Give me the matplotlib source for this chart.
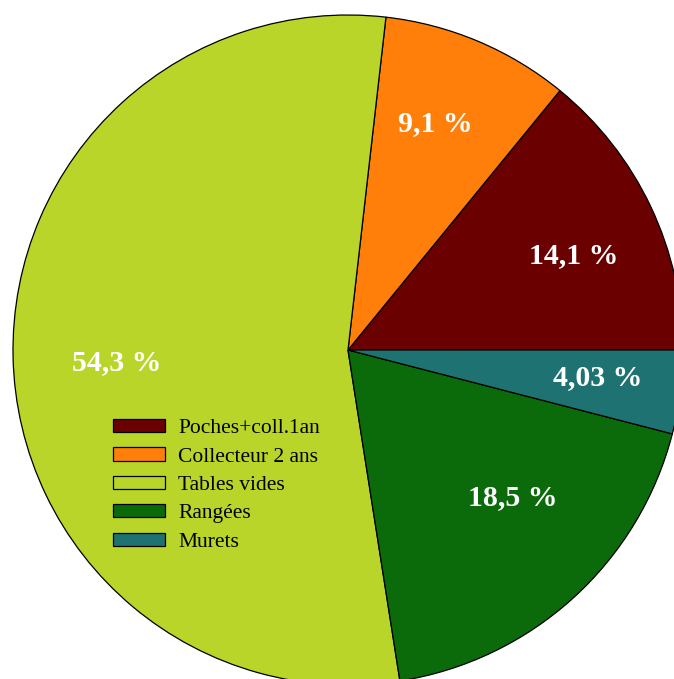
import matplotlib
matplotlib.use("Agg")
import matplotlib.pyplot as plt
import numpy as np

# Slice data (counterclockwise from 3 o'clock)
categories = ["Poches+coll.1an", "Collecteur 2 ans", "Tables vides", "Rangées", "Murets"]
values = [14.1, 9.1, 54.3, 18.5, 4.03]
pct_labels = ["14,1 %", "9,1 %", "54,3 %", "18,5 %", "4,03 %"]
colors = ["#6a0000", "#ff7f0a", "#b9d52a", "#0b6b0b", "#1f7272"]

# label placement (radius fraction, angle in degrees)
label_pos = [(0.73, 22.8), (0.725, 69.0), (0.69, 183.0), (0.66, -41.9), (0.75, -6.4)]

fig = plt.figure(figsize=(6.74, 6.79), dpi=100)
ax = fig.add_axes([0, 0, 1, 1])

wedges, _ = ax.pie(values, colors=colors, startangle=0, counterclock=True,
                   wedgeprops=dict(edgecolor="black", linewidth=0.9))

for txt, (r, a) in zip(pct_labels, label_pos):
    ax.text(r * np.cos(np.radians(a)), r * np.sin(np.radians(a)), txt,
            ha="center", va="center", color="white", fontsize=21.5,
            fontweight="bold", family="Liberation Serif")

# pie radius 1 == 335 px, centre at (348, 350) px
ax.set_xlim(-348 / 335, (674 - 348) / 335)
ax.set_ylim(-(679 - 350) / 335, 350 / 335)
ax.set_aspect("auto")
ax.axis("off")

leg = ax.legend(wedges, categories, loc="upper left",
                bbox_to_anchor=(113 / 674, 1 - 419 / 679),
                frameon=False, borderpad=0, borderaxespad=0,
                handlelength=2.42, handleheight=0.56, handletextpad=0.6,
                labelspacing=0.43,
                prop=dict(family="Liberation Serif", size=15.5))

fig.savefig("out.png", dpi=100, facecolor="white")
